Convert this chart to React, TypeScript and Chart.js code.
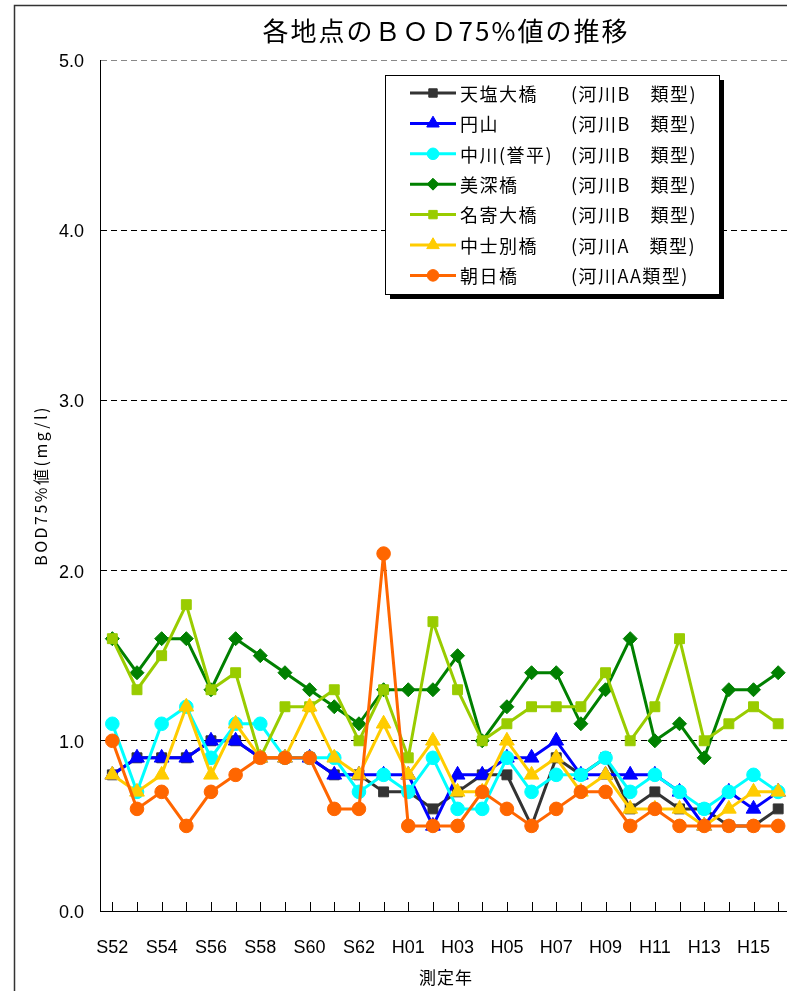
import React, { useEffect, useRef } from 'react';
import { Chart, registerables } from 'chart.js';
import { drawPoint } from 'chart.js/helpers';

Chart.register(...registerables);

const categories = [
  'S52', 'S53', 'S54', 'S55', 'S56', 'S57', 'S58', 'S59', 'S60', 'S61', 'S62', 'S63',
  'H01', 'H02', 'H03', 'H04', 'H05', 'H06', 'H07', 'H08', 'H09', 'H10', 'H11', 'H12', 'H13', 'H14', 'H15', 'H16',
];
const xTickLabels = categories.map((c, i) => (i % 2 === 0 ? c : ''));

const siteNames = ['天塩大橋', '円山', '中川(誉平)', '美深橋', '名寄大橋', '中士別橋', '朝日橋'];
const siteTypes = ['(河川B　類型)', '(河川B　類型)', '(河川B　類型)', '(河川B　類型)', '(河川B　類型)', '(河川A　類型)', '(河川AA類型)'];
const siteColors = ['#333333', '#0000FF', '#00FFFF', '#008000', '#99CC00', '#FFCC00', '#FF6600'];
const sitePointStyles = ['rect', 'triangle', 'circle', 'rectRot', 'rect', 'triangle', 'circle'];
const sitePointRadius = [7, 8.5, 6.8, 7, 7, 8.5, 6.8];

const teshioOhashi = [0.8, 0.9, 0.9, 0.9, 1.0, 1.0, 0.9, 0.9, 0.9, 0.8, 0.8, 0.7, 0.7, 0.6, 0.7, 0.8, 0.8, 0.5, 0.9, 0.8, 0.9, 0.6, 0.7, 0.6, 0.6, 0.5, 0.5, 0.6];
const maruyama = [0.8, 0.9, 0.9, 0.9, 1.0, 1.0, 0.9, 0.9, 0.9, 0.8, 0.8, 0.8, 0.8, 0.5, 0.8, 0.8, 0.9, 0.9, 1.0, 0.8, 0.8, 0.8, 0.8, 0.7, 0.5, 0.7, 0.6, 0.7];
const nakagawa = [1.1, 0.7, 1.1, 1.2, 0.9, 1.1, 1.1, 0.9, 0.9, 0.9, 0.7, 0.8, 0.7, 0.9, 0.6, 0.6, 0.9, 0.7, 0.8, 0.8, 0.9, 0.7, 0.8, 0.7, 0.6, 0.7, 0.8, 0.7];
const bifukaBashi = [1.6, 1.4, 1.6, 1.6, 1.3, 1.6, 1.5, 1.4, 1.3, 1.2, 1.1, 1.3, 1.3, 1.3, 1.5, 1.0, 1.2, 1.4, 1.4, 1.1, 1.3, 1.6, 1.0, 1.1, 0.9, 1.3, 1.3, 1.4];
const nayoroOhashi = [1.6, 1.3, 1.5, 1.8, 1.3, 1.4, 0.9, 1.2, 1.2, 1.3, 1.0, 1.3, 0.9, 1.7, 1.3, 1.0, 1.1, 1.2, 1.2, 1.2, 1.4, 1.0, 1.2, 1.6, 1.0, 1.1, 1.2, 1.1];
const nakashibetsuBashi = [0.8, 0.7, 0.8, 1.2, 0.8, 1.1, 0.9, 0.9, 1.2, 0.9, 0.8, 1.1, 0.8, 1.0, 0.7, 0.7, 1.0, 0.8, 0.9, 0.7, 0.8, 0.6, 0.6, 0.6, 0.5, 0.6, 0.7, 0.7];
const asahiBashi = [1.0, 0.6, 0.7, 0.5, 0.7, 0.8, 0.9, 0.9, 0.9, 0.6, 0.6, 2.1, 0.5, 0.5, 0.5, 0.7, 0.6, 0.5, 0.6, 0.7, 0.7, 0.5, 0.6, 0.5, 0.5, 0.5, 0.5, 0.5];
const siteValues = [teshioOhashi, maruyama, nakagawa, bifukaBashi, nayoroOhashi, nakashibetsuBashi, asahiBashi];

const yMin = 0;
const yMax = 5;
const yStep = 1;

const chartTitle = '各地点のＢＯＤ75%値の推移';
const yTitle = 'BOD75%値(mg/l)';
const xTitle = '測定年';

const CJK = '"Noto Sans CJK JP", "Noto Sans", sans-serif';
const LATIN = '"Liberation Sans", Arial, sans-serif';

const decorPlugin = {
  id: 'decor',
  beforeDraw(chart: any) {
    const ctx = chart.ctx;
    ctx.save();
    ctx.fillStyle = '#ffffff';
    ctx.fillRect(0, 0, chart.width, chart.height);
    ctx.strokeStyle = '#333333';
    ctx.lineWidth = 1.5;
    ctx.strokeRect(14.5, 5.5, chart.width + 50, chart.height + 50);
    ctx.restore();
  },
  afterDraw(chart: any) {
    const ctx = chart.ctx;
    const xs = chart.scales.x;
    const ys = chart.scales.y;
    const area = chart.chartArea;
    ctx.save();
    // inward tick marks on the category axis
    ctx.strokeStyle = '#000';
    ctx.lineWidth = 1;
    categories.forEach((_, i) => {
      const px = Math.round(xs.getPixelForValue(i)) + 0.5;
      ctx.beginPath();
      ctx.moveTo(px, Math.round(ys.getPixelForValue(yMin)));
      ctx.lineTo(px, Math.round(ys.getPixelForValue(yMin)) - 9);
      ctx.stroke();
    });

    ctx.fillStyle = '#000';
    // title
    ctx.font = `26px ${CJK}`;
    (ctx as any).letterSpacing = '2px';
    ctx.textAlign = 'center';
    ctx.textBaseline = 'middle';
    ctx.fillText(chartTitle, 446, 31);

    // x axis title
    ctx.font = `17px ${CJK}`;
    (ctx as any).letterSpacing = '1px';
    ctx.fillText(xTitle, 446, 978);

    // y axis title
    ctx.save();
    ctx.translate(41, (area.top + area.bottom) / 2);
    ctx.rotate(-Math.PI / 2);
    ctx.font = `16px ${CJK}`;
    (ctx as any).letterSpacing = '2.5px';
    ctx.fillText(yTitle, 0, 0);
    ctx.restore();

    // legend
    const bx = 385.5, by = 75.5, bw = 334, bh = 219;
    ctx.fillStyle = '#000';
    ctx.fillRect(bx + 4.5, by + 4.5, bw, bh);
    ctx.fillStyle = '#fff';
    ctx.fillRect(bx, by, bw, bh);
    ctx.strokeStyle = '#000';
    ctx.lineWidth = 1;
    ctx.strokeRect(bx, by, bw, bh);
    ctx.font = `18px ${CJK}`;
    (ctx as any).letterSpacing = '1.5px';
    ctx.textAlign = 'left';
    ctx.textBaseline = 'middle';
    siteNames.forEach((name, i) => {
      const ry = 93 + i * 30.4;
      ctx.strokeStyle = siteColors[i];
      ctx.fillStyle = siteColors[i];
      ctx.lineWidth = 3;
      ctx.beginPath();
      ctx.moveTo(410, ry);
      ctx.lineTo(456, ry);
      ctx.stroke();
      ctx.lineWidth = 1;
      drawPoint(ctx, { pointStyle: sitePointStyles[i] as any, radius: sitePointRadius[i] * 0.85, rotation: 0, borderWidth: 1 }, 433, ry);
      ctx.fillStyle = '#000';
      ctx.fillText(name, 460, ry + 1);
      ctx.fillText(siteTypes[i], 571, ry + 1);
    });
    ctx.restore();
  },
};

export default function App() {
  const canvasRef = useRef<HTMLCanvasElement | null>(null);

  useEffect(() => {
    if (!canvasRef.current) return;
    const chart = new Chart(canvasRef.current, {
      type: 'line',
      data: {
        labels: categories,
        datasets: siteNames.map((name, i) => ({
          label: name,
          data: siteValues[i],
          borderColor: siteColors[i],
          backgroundColor: siteColors[i],
          borderWidth: 3,
          pointStyle: sitePointStyles[i] as any,
          pointRadius: sitePointRadius[i],
          pointBorderWidth: 1,
          pointBorderColor: siteColors[i],
          pointBackgroundColor: siteColors[i],
          tension: 0,
          fill: false,
          order: 7 - i,
        })),
      },
      options: {
        responsive: false,
        animation: false,
        events: [],
        layout: { padding: { top: 60, right: 8.1, left: 0, bottom: 0 } },
        plugins: {
          legend: { display: false },
          title: { display: false },
          tooltip: { enabled: false },
        },
        scales: {
          x: {
            type: 'category',
            offset: true,
            grid: { display: false },
            border: { display: true, color: '#000', width: 1 },
            ticks: {
              autoSkip: false,
              maxRotation: 0,
              minRotation: 0,
              padding: 18,
              color: '#000',
              font: { family: LATIN, size: 18 },
              callback: (_v: any, index: number) => xTickLabels[index],
            },
            afterFit: (scale: any) => {
              scale.height = 80;
            },
          },
          y: {
            min: yMin,
            max: yMax,
            grid: {
              display: true,
              drawTicks: false,
              lineWidth: 1,
              color: (c: any) => (c.tick && c.tick.value === yMax ? '#888888' : '#000000'),
            },
            border: { display: true, color: '#000', width: 1, dash: [6, 4] },
            ticks: {
              stepSize: yStep,
              padding: 16,
              labelOffset: 2,
              color: '#000',
              font: { family: LATIN, size: 18 },
              callback: (v: any) => Number(v).toFixed(1),
            },
            afterFit: (scale: any) => {
              scale.width = 100;
            },
          },
        },
      },
      plugins: [decorPlugin],
    });
    return () => chart.destroy();
  }, []);

  return (
    <div style={{ position: 'fixed', left: 0, top: 0, width: 787, height: 991, overflow: 'hidden', background: '#fff' }}>
      <canvas ref={canvasRef} width={800} height={991} style={{ display: 'block' }} />
    </div>
  );
}
